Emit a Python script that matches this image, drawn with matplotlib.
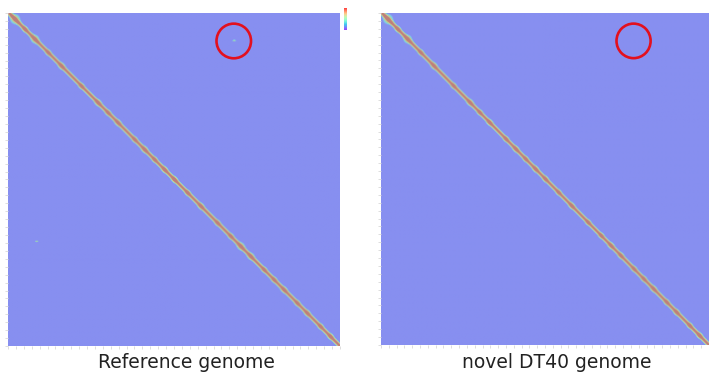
import numpy as np
import matplotlib
matplotlib.use("Agg")
import matplotlib.pyplot as plt
from matplotlib.colors import LinearSegmentedColormap
from matplotlib.patches import Circle

# Hi-C style contact maps, positions given as fraction of the genome
N_BINS = 330
ref_blob_pos = [0.02, 0.05, 0.08, 0.12, 0.16, 0.22, 0.27, 0.30, 0.33, 0.38, 0.41,
                0.44, 0.47, 0.50, 0.54, 0.58, 0.63, 0.67, 0.70, 0.73, 0.77,
                0.80, 0.83, 0.87, 0.90, 0.94, 0.97]
ref_blob_size = [2.4, 1.3, 2.0, 1.2, 1.5, 1.2, 1.5, 1.2, 1.4, 1.2, 1.5,
                 1.2, 1.4, 1.4, 1.2, 1.4, 1.2, 1.2, 1.8, 1.6, 1.2,
                 1.2, 1.4, 1.2, 1.3, 1.2, 1.3]
novel_blob_pos = [0.02, 0.05, 0.08, 0.12, 0.16, 0.22, 0.27, 0.30, 0.33, 0.38, 0.41,
                  0.44, 0.47, 0.50, 0.54, 0.58, 0.63, 0.67, 0.70, 0.73, 0.77,
                  0.80, 0.83, 0.87, 0.90, 0.94, 0.97]
novel_blob_size = [2.4, 1.3, 2.0, 1.2, 1.5, 1.2, 1.5, 1.2, 1.4, 1.2, 1.4,
                   1.2, 1.4, 1.3, 1.2, 1.4, 1.2, 1.2, 1.4, 1.3, 1.2,
                   1.2, 1.4, 1.2, 1.3, 1.2, 1.3]
ref_offdiag = [(0.084, 0.68), (0.685, 0.085)]   # (row, col) translocation signal
novel_offdiag = []
circle_row = 0.084
circle_col_ref = 0.68
circle_col_novel = 0.77
circle_radius = 0.052
titles = ["Reference genome", "novel DT40 genome"]

BG = "#878ff0"
cmap = LinearSegmentedColormap.from_list(
    "hic", [(0.0, BG), (0.1, BG), (0.22, "#82cfe6"), (0.36, "#a4d8a4"),
            (0.5, "#d2c890"), (0.68, "#c89f86"), (1.0, "#bd7f7a")])


def contact_map(blob_pos, blob_size, offdiag):
    idx = np.arange(N_BINS)
    i, j = np.meshgrid(idx, idx, indexing="ij")
    d = np.abs(i - j)
    m = np.exp(-(d / 2.6) ** 2)
    for p, s in zip(blob_pos, blob_size):
        c = p * N_BINS
        m += 0.45 * np.exp(-((i - c) ** 2 + (j - c) ** 2) / (2 * (1.4 * s) ** 2))
    for r, c in offdiag:
        r, c = r * N_BINS, c * N_BINS
        m += 0.4 * np.exp(-((i - r) ** 2 / 0.8 + (j - c) ** 2 / 3.0))
    return np.clip(m, 0, 1)


fig = plt.figure(figsize=(7.09, 3.73), dpi=100)
W, H = 709, 373
boxes = [(8, 13, 332, 333), (381, 13, 328, 332)]
maps = [contact_map(ref_blob_pos, ref_blob_size, ref_offdiag),
        contact_map(novel_blob_pos, novel_blob_size, novel_offdiag)]
circle_cols = [circle_col_ref, circle_col_novel]
text_x = [186, 557]

for k in range(2):
    x0, y0, w, h = boxes[k]
    ax = fig.add_axes([x0 / W, 1 - (y0 + h) / H, w / W, h / H])
    ax.imshow(maps[k], cmap=cmap, vmin=0, vmax=1, interpolation="bilinear",
              aspect="auto", extent=[0, N_BINS, N_BINS, 0])
    ax.set_xlim(0, N_BINS)
    ax.set_ylim(N_BINS, 0)
    ticks = np.linspace(0, N_BINS, 43)
    ax.set_xticks(ticks)
    ax.set_yticks(ticks)
    ax.set_xticklabels([])
    ax.set_yticklabels([])
    ax.tick_params(length=2.5, width=0.6, color="#d8d8d8", direction="out")
    for s in ax.spines.values():
        s.set_visible(False)
    ax.add_patch(Circle((circle_cols[k] * N_BINS, circle_row * N_BINS),
                        circle_radius * N_BINS, fill=False, ec="#e3101e", lw=1.9,
                        clip_on=False))
    fig.text(text_x[k] / W, 1 - 362 / H, titles[k], ha="center", va="center",
             fontsize=13.5, color="#222222")

# small colour scale of the left map
cax = fig.add_axes([344 / W, 1 - 30 / H, 3 / W, 22 / H])
cax.imshow(np.linspace(1, 0, 50)[:, None], cmap="rainbow", aspect="auto", alpha=0.75)
cax.set_xticks([])
cax.set_yticks([])
for s in cax.spines.values():
    s.set_visible(False)

fig.savefig("out.png", dpi=100)
